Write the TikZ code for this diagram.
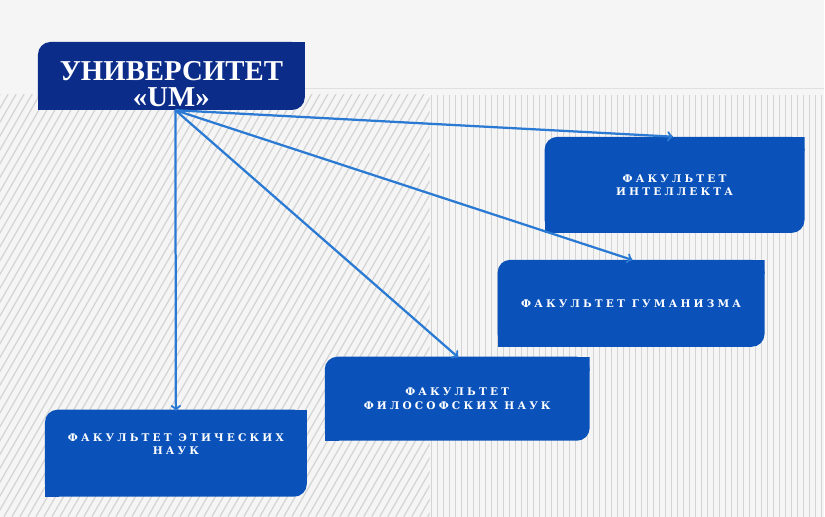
\documentclass[tikz,border=0pt]{standalone}
\usepackage{fontspec}
\usepackage{tikz}
\setmainfont{Liberation Serif}
\newfontfamily\facfont{DejaVu Serif}[LetterSpace=30]

\definecolor{univblue}{RGB}{12,44,138}
\definecolor{facblue}{RGB}{10,82,186}
\definecolor{arrowblue}{RGB}{42,122,212}
\definecolor{stripegray}{RGB}{212,212,212}

\tikzset{
    diagbox/.style={rectangle, inner sep=0pt, text=white, align=center,
        path picture={
            \fill[#1, rounded corners=9pt] (path picture bounding box.south west)
                rectangle (path picture bounding box.north east);
            \fill[#1] (path picture bounding box.north east)
                rectangle ([xshift=-10pt, yshift=-10pt]path picture bounding box.north east);
            \fill[#1] (path picture bounding box.south west)
                rectangle ([xshift=10pt, yshift=10pt]path picture bounding box.south west);
        }},
    univbox/.style={diagbox=univblue, minimum width=6.675cm, minimum height=1.7cm,
        font=\bfseries\fontsize{20.5}{19}\selectfont},
    facbox/.style={diagbox=facblue, minimum width=6.6cm, minimum height=2.15cm,
        font=\facfont\bfseries\fontsize{7.5}{9.4}\selectfont},
    stripe/.style={stripegray, line width=0.9pt},
    link/.style={->, arrowblue, line width=1.6pt, shorten >=-1pt}
}

\begin{document}
\begin{tikzpicture}[x=0.025cm, y=-0.025cm]
    % background
    \fill[white!96!black] (0,0) rectangle (825,517);
    \begin{scope}
        \clip (0,95) rectangle (430,517);
        \foreach \i in {-300,-292,...,440}
            \draw[stripe] (\i,517) -- ++(250,-433);
    \end{scope}
    \begin{scope}
        \clip (430,95) rectangle (825,517);
        \foreach \i in {432,438,...,825}
            \draw[stripe] (\i,95) -- (\i,517);
    \end{scope}
    \draw[black!12, line width=0.8pt] (305,89) -- (825,89);

    % nodes: univ
    \node[univbox] (univ) at (171.5, 76) {\rule{0pt}{25pt}УНИВЕРСИТЕТ\\«UM»};
    % nodes: intel guman filos etich
    \node[facbox, minimum width=6.5cm, minimum height=2.4cm] (intel) at (675, 185) {ФАКУЛЬТЕТ\\ИНТЕЛЛЕКТА};
    \node[facbox, minimum width=6.675cm, minimum height=2.175cm] (guman) at (631.5, 303.5) {ФАКУЛЬТЕТ ГУМАНИЗМА};
    \node[facbox, minimum width=6.625cm, minimum height=2.1cm] (filos) at (457.5, 399) {ФАКУЛЬТЕТ\\ФИЛОСОФСКИХ НАУК};
    \node[facbox, minimum width=6.55cm, minimum height=2.175cm] (etich) at (176, 453.5) {ФАКУЛЬТЕТ ЭТИЧЕСКИХ\\НАУК\rule[-13pt]{0pt}{13pt}};

    % edges: univ-etich, univ-filos, univ-guman, univ-intel
    \draw[link] ([xshift=0.1cm]univ.south) -- (etich.north);
    \draw[link] ([xshift=0.1cm]univ.south) -- (filos.north);
    \draw[link] ([xshift=0.1cm]univ.south) -- (guman.north);
    \draw[link] ([xshift=0.1cm]univ.south) -- ([xshift=-0.075cm]intel.north);
\end{tikzpicture}
\end{document}
